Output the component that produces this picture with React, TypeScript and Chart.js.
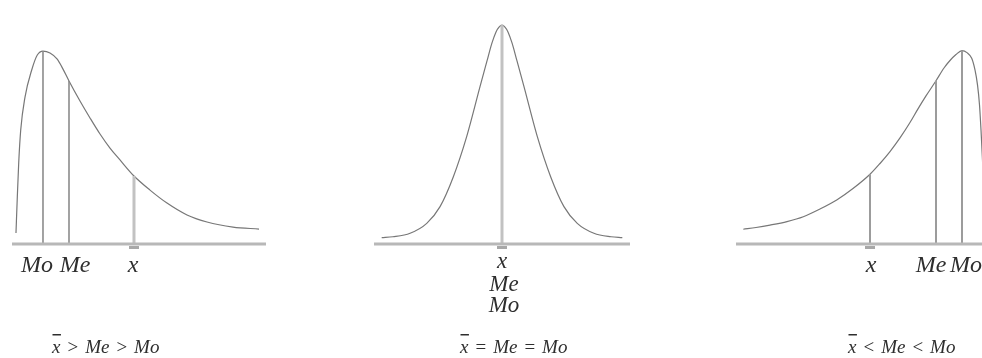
import React, { useEffect, useRef } from "react";
import { Chart, registerables } from "chart.js";

Chart.register(...registerables);

// ---------- Data ----------
// Left panel: positively skewed distribution (x-domain 0..10, height 0..100)
const rightSkewX = [0.157, 0.209, 0.264, 0.343, 0.512, 0.776, 0.996, 1.22, 1.496, 1.772, 2.008, 2.244, 2.677, 3.071, 3.465, 3.858, 4.252, 4.803, 5.433, 6.102, 6.89, 7.677, 8.701, 9.724];
const rightSkewY = [5.0, 21.4, 36.8, 51.8, 66.8, 79.1, 85.9, 87.7, 86.8, 84.1, 79.5, 74.1, 65.0, 57.3, 50.0, 43.6, 38.2, 30.9, 24.5, 18.6, 13.2, 10.0, 7.7, 6.8];
const rightSkewModeIdx = 7;
const rightSkewMedianIdx = 11;
const rightSkewMeanIdx = 17;

// Middle panel: symmetric distribution (x-domain -5..5)
const symX = [-4.7, -4.26, -3.59, -2.94, -2.42, -1.9, -1.38, -0.859, -0.586, -0.391, -0.234, -0.117, 0, 0.117, 0.234, 0.391, 0.586, 0.859, 1.38, 1.9, 2.42, 2.94, 3.59, 4.26, 4.7];
const symY = [2.9, 3.3, 4.9, 9.4, 17.0, 30.6, 48.8, 71.5, 83.2, 91.4, 96.4, 98.6, 99.5, 98.6, 96.4, 91.4, 83.2, 71.5, 48.8, 30.6, 17.0, 9.4, 4.9, 3.3, 2.9];
const symCenterIdx = 12;

// Right panel: negatively skewed distribution (x-domain 0..10)
const leftSkewX = [0.287, 0.787, 1.339, 2.008, 2.65, 3.307, 3.965, 4.606, 5.276, 5.669, 6.063, 6.457, 6.85, 7.165, 7.48, 7.874, 8.189, 8.425, 8.661, 8.898, 9.094, 9.28, 9.409, 9.508, 9.587, 9.646, 9.705, 9.764, 9.823];
const leftSkewY = [6.7, 7.5, 8.6, 10.2, 12.4, 15.9, 20.0, 25.2, 31.7, 36.6, 42.0, 48.2, 55.2, 61.4, 67.3, 74.2, 80.0, 83.4, 86.1, 87.9, 87.0, 84.4, 79.1, 72.3, 63.2, 51.8, 38.2, 20.0, 4.1];
const leftSkewMeanIdx = 8;
const leftSkewMedianIdx = 15;
const leftSkewModeIdx = 19;

const formulaLeft = ["x", ">", "Me", ">", "Mo"];
const formulaMiddle = ["x", "=", "Me", "=", "Mo"];
const formulaRight = ["x", "<", "Me", "<", "Mo"];

// ---------- Styling / layout ----------
const H = 358;
const SERIF = '"Liberation Serif"';
const TEXT = "#2e2e2e";
const CURVE = "#777777";
const AXIS = "#b8b8b8";
const DARK_LINE = { color: "#8c8c8c", width: 1.6 };
const LIGHT_LINE = { color: "#c2c2c2", width: 3 };
const MID_LINE = { color: "#9c9c9c", width: 2 };

type Marker = { idx: number; style: { color: string; width: number } };
type Label = { text: string; idx: number; dx: number; y: number; size: number };

type PanelCfg = {
  left: number;
  width: number;
  padL: number;
  padR: number;
  xMin: number;
  xMax: number;
  xs: number[];
  ys: number[];
  markers: Marker[];
  meanIdx: number;
  labels: Label[];
  formula: string[];
  formulaStart: number;
};

const panels: PanelCfg[] = [
  {
    left: 0, width: 300, padL: 12, padR: 34, xMin: 0, xMax: 10,
    xs: rightSkewX, ys: rightSkewY,
    markers: [
      { idx: rightSkewModeIdx, style: DARK_LINE },
      { idx: rightSkewMedianIdx, style: DARK_LINE },
      { idx: rightSkewMeanIdx, style: LIGHT_LINE },
    ],
    meanIdx: rightSkewMeanIdx,
    labels: [
      { text: "Mo", idx: rightSkewModeIdx, dx: -6, y: 272, size: 24 },
      { text: "Me", idx: rightSkewMedianIdx, dx: 6, y: 272, size: 24 },
      { text: "x", idx: rightSkewMeanIdx, dx: -1, y: 272, size: 24 },
    ],
    formula: formulaLeft, formulaStart: 52,
  },
  {
    left: 340, width: 330, padL: 34, padR: 40, xMin: -5, xMax: 5,
    xs: symX, ys: symY,
    markers: [{ idx: symCenterIdx, style: LIGHT_LINE }],
    meanIdx: symCenterIdx,
    labels: [
      { text: "x", idx: symCenterIdx, dx: 0, y: 268, size: 23 },
      { text: "Me", idx: symCenterIdx, dx: 2, y: 291, size: 23 },
      { text: "Mo", idx: symCenterIdx, dx: 2, y: 312, size: 23 },
    ],
    formula: formulaMiddle, formulaStart: 120,
  },
  {
    left: 700, width: 300, padL: 36, padR: 10, xMin: 0, xMax: 10,
    xs: leftSkewX, ys: leftSkewY,
    markers: [
      { idx: leftSkewMeanIdx, style: MID_LINE },
      { idx: leftSkewMedianIdx, style: MID_LINE },
      { idx: leftSkewModeIdx, style: MID_LINE },
    ],
    meanIdx: leftSkewMeanIdx,
    labels: [
      { text: "x", idx: leftSkewMeanIdx, dx: 1, y: 272, size: 24 },
      { text: "Me", idx: leftSkewMedianIdx, dx: -5, y: 272, size: 24 },
      { text: "Mo", idx: leftSkewModeIdx, dx: 4, y: 272, size: 24 },
    ],
    formula: formulaRight, formulaStart: 148,
  },
];

function buildConfig(p: PanelCfg): any {
  const curve = p.xs.map((x, i) => ({ x, y: p.ys[i] }));
  const datasets: any[] = [
    {
      data: [{ x: p.xMin, y: 0 }, { x: p.xMax, y: 0 }],
      borderColor: AXIS,
      borderWidth: 3,
      showLine: true,
      pointRadius: 0,
      clip: false,
    },
    ...p.markers.map((m) => ({
      data: [{ x: p.xs[m.idx], y: 0 }, { x: p.xs[m.idx], y: p.ys[m.idx] }],
      borderColor: m.style.color,
      borderWidth: m.style.width,
      showLine: true,
      pointRadius: 0,
      clip: false,
    })),
    {
      data: curve,
      borderColor: CURVE,
      borderWidth: 1.2,
      showLine: true,
      pointRadius: 0,
      cubicInterpolationMode: "monotone",
      clip: false,
    },
  ];

  const textPlugin = {
    id: "panelText",
    afterDatasetsDraw(chart: any) {
      const ctx = chart.ctx as CanvasRenderingContext2D;
      const xs = chart.scales.x;
      const ys = chart.scales.y;
      const base = ys.getPixelForValue(0);
      ctx.save();
      // small bar under the axis at the mean
      const mx = xs.getPixelForValue(p.xs[p.meanIdx]);
      ctx.fillStyle = "#a8a8a8";
      ctx.fillRect(mx - 5, base + 2, 10, 3);
      // axis labels
      ctx.fillStyle = TEXT;
      ctx.textAlign = "center";
      ctx.textBaseline = "alphabetic";
      for (const l of p.labels) {
        ctx.font = `italic ${l.size}px ${SERIF}`;
        ctx.fillText(l.text, xs.getPixelForValue(p.xs[l.idx]) + l.dx, l.y);
      }
      // formula, token by token
      ctx.textAlign = "left";
      const gap = 7;
      let cx = p.formulaStart;
      p.formula.forEach((tok, i) => {
        const italic = tok.length > 1 || tok === "x";
        ctx.font = `${italic ? "italic " : ""}19px ${SERIF}`;
        const w = ctx.measureText(tok).width;
        ctx.fillText(tok, cx, 353);
        if (i === 0) ctx.fillRect(cx + 0.5, 334, w, 1.5);
        cx += w + gap;
      });
      ctx.restore();
    },
  };

  return {
    type: "scatter",
    data: { datasets },
    options: {
      animation: false,
      responsive: false,
      devicePixelRatio: 1,
      events: [],
      layout: { padding: { left: p.padL, right: p.padR, top: 24, bottom: H - 244 } },
      scales: {
        x: { type: "linear", min: p.xMin, max: p.xMax, display: false },
        y: { type: "linear", min: 0, max: 100, display: false },
      },
      plugins: { legend: { display: false }, tooltip: { enabled: false }, title: { display: false } },
    },
    plugins: [textPlugin],
  };
}

function Panel({ cfg }: { cfg: PanelCfg }) {
  const ref = useRef<HTMLCanvasElement | null>(null);
  useEffect(() => {
    if (!ref.current) return;
    const chart = new Chart(ref.current, buildConfig(cfg));
    let alive = true;
    const fonts: any = (document as any).fonts;
    if (fonts && fonts.load) {
      Promise.all([
        fonts.load(`italic 24px ${SERIF}`),
        fonts.load(`19px ${SERIF}`),
      ]).then(() => {
        if (alive) chart.update();
      }).catch(() => {});
    }
    return () => {
      alive = false;
      chart.destroy();
    };
  }, [cfg]);
  return (
    <canvas
      ref={ref}
      width={cfg.width}
      height={H}
      style={{ position: "absolute", left: cfg.left, top: 0, width: cfg.width, height: H }}
    />
  );
}

export default function App() {
  return (
    <div
      style={{
        position: "fixed",
        left: 0,
        top: 0,
        width: 982,
        height: H,
        overflow: "hidden",
        background: "#ffffff",
      }}
    >
      {panels.map((p, i) => (
        <Panel key={i} cfg={p} />
      ))}
    </div>
  );
}
